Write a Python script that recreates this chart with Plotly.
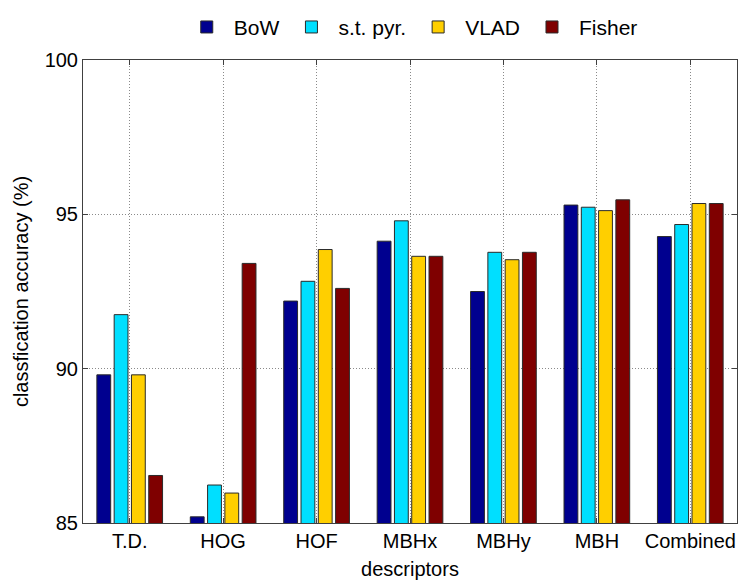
import plotly.graph_objects as go

categories = ["T.D.", "HOG", "HOF", "MBHx", "MBHy", "MBH", "Combined"]
series_names = ["BoW", "s.t. pyr.", "VLAD", "Fisher"]
bow = [89.80, 85.20, 92.19, 94.13, 92.50, 95.30, 94.28]
st_pyr = [91.75, 86.23, 92.83, 94.79, 93.77, 95.23, 94.67]
vlad = [89.80, 85.97, 93.86, 93.64, 93.53, 95.12, 95.35]
fisher = [86.54, 93.41, 92.60, 93.64, 93.77, 95.47, 95.35]
colors = ["#00008F", "#00DFFF", "#FFCF00", "#7F0000"]
y_ticks = [85, 90, 95, 100]

FONT = "Liberation Sans"

fig = go.Figure()
for name, vals, col in zip(series_names, [bow, st_pyr, vlad, fisher], colors):
    fig.add_trace(go.Bar(
        x=categories, y=vals, name=name,
        marker=dict(color=col, line=dict(color="#2a2a2a", width=1)),
    ))

fig.update_layout(
    width=741, height=581,
    margin=dict(l=83, r=4, t=60, b=58, autoexpand=False),
    paper_bgcolor="white", plot_bgcolor="white",
    barmode="group", bargap=0.26, bargroupgap=0.2,
    font=dict(family=FONT, size=20, color="black"),
    legend=dict(orientation="h", x=0.555, xanchor="center", xref="container",
                y=0.953, yanchor="middle", yref="container",
                font=dict(size=21), traceorder="normal", itemwidth=44),
    showlegend=True,
)
fig.update_xaxes(
    range=[-0.5, 6.5], showline=True, mirror="ticks", linecolor="#404040", linewidth=1,
    showgrid=True, gridcolor="#8a8a8a", griddash="1px,2px", gridwidth=1,
    ticks="inside", ticklen=5, tickcolor="#404040", automargin=False,
    title=dict(text="descriptors", font=dict(size=20), standoff=10),
    tickfont=dict(size=20),
)
fig.update_yaxes(
    range=[85, 100], tickvals=y_ticks, showline=True, mirror="ticks", linecolor="#404040", linewidth=1,
    showgrid=True, gridcolor="#8a8a8a", griddash="1px,2px", gridwidth=1,
    ticks="inside", ticklen=5, tickcolor="#404040", zeroline=False, automargin=False,
    title=dict(text="classfication accuracy (%)", font=dict(size=20), standoff=10),
    tickfont=dict(size=20),
)
fig.write_html("out.html", config={"displayModeBar": False},
               post_script="document.body.style.margin='0';")
